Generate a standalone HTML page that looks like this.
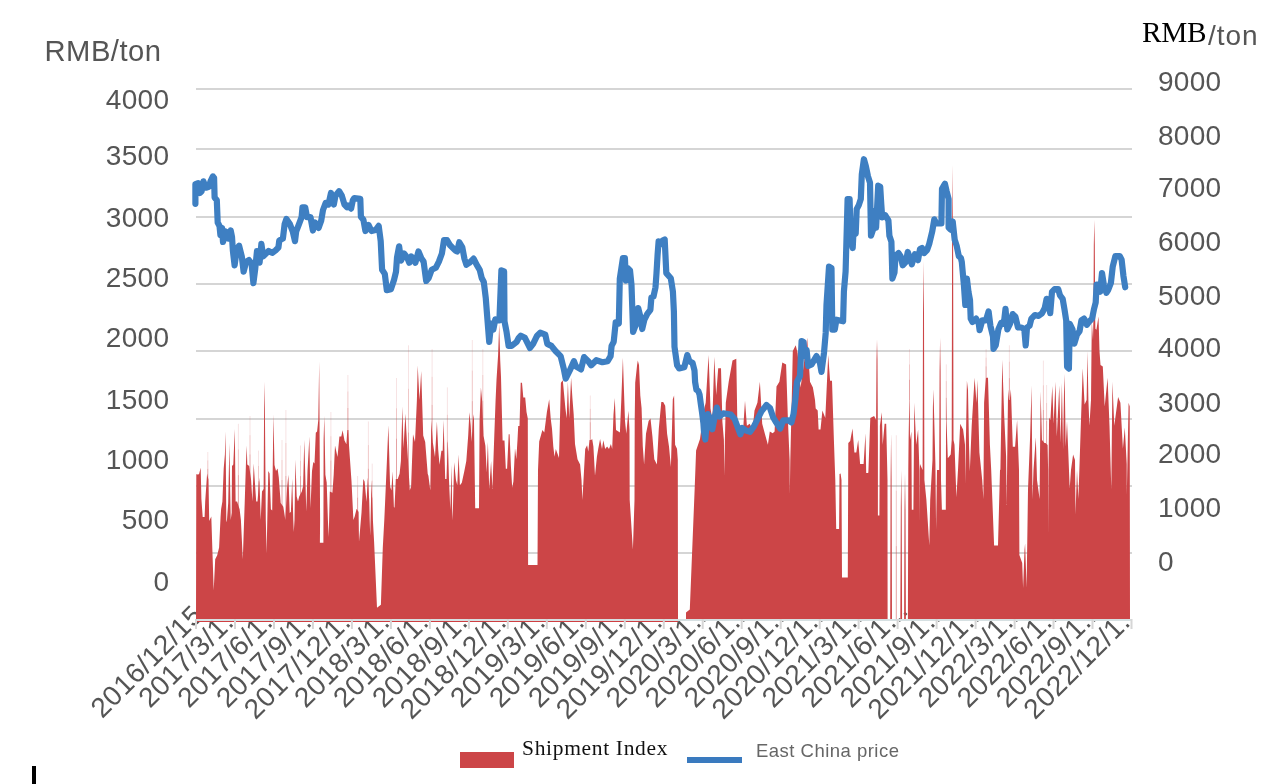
<!DOCTYPE html>
<html><head><meta charset="utf-8"><style>
html,body{margin:0;padding:0;background:#fff;}
body{width:1276px;height:784px;overflow:hidden;position:relative;}
svg{position:absolute;left:0;top:0;will-change:transform;}
</style></head><body>
<svg width="1276" height="784" viewBox="0 0 1276 784">
<defs><clipPath id="lc"><rect x="0" y="0" width="1132" height="784"/></clipPath></defs><g clip-path="url(#lc)">
<text x="204.5" y="617.0" text-anchor="end" transform="rotate(-45 204.5 617.0)" letter-spacing="0.45" font-size="28" fill="#555" font-family='"Liberation Sans",sans-serif'>2016/12/15</text>
<text x="247.0" y="612.0" text-anchor="end" transform="rotate(-45 247.0 612.0)" letter-spacing="0.45" font-size="28" fill="#555" font-family='"Liberation Sans",sans-serif'>2017/3/1...</text>
<text x="286.0" y="612.0" text-anchor="end" transform="rotate(-45 286.0 612.0)" letter-spacing="0.45" font-size="28" fill="#555" font-family='"Liberation Sans",sans-serif'>2017/6/1...</text>
<text x="324.9" y="612.0" text-anchor="end" transform="rotate(-45 324.9 612.0)" letter-spacing="0.45" font-size="28" fill="#555" font-family='"Liberation Sans",sans-serif'>2017/9/1...</text>
<text x="363.9" y="612.0" text-anchor="end" transform="rotate(-45 363.9 612.0)" letter-spacing="0.45" font-size="28" fill="#555" font-family='"Liberation Sans",sans-serif'>2017/12/1...</text>
<text x="402.9" y="612.0" text-anchor="end" transform="rotate(-45 402.9 612.0)" letter-spacing="0.45" font-size="28" fill="#555" font-family='"Liberation Sans",sans-serif'>2018/3/1...</text>
<text x="441.9" y="612.0" text-anchor="end" transform="rotate(-45 441.9 612.0)" letter-spacing="0.45" font-size="28" fill="#555" font-family='"Liberation Sans",sans-serif'>2018/6/1...</text>
<text x="480.9" y="612.0" text-anchor="end" transform="rotate(-45 480.9 612.0)" letter-spacing="0.45" font-size="28" fill="#555" font-family='"Liberation Sans",sans-serif'>2018/9/1...</text>
<text x="519.8" y="612.0" text-anchor="end" transform="rotate(-45 519.8 612.0)" letter-spacing="0.45" font-size="28" fill="#555" font-family='"Liberation Sans",sans-serif'>2018/12/1...</text>
<text x="558.8" y="612.0" text-anchor="end" transform="rotate(-45 558.8 612.0)" letter-spacing="0.45" font-size="28" fill="#555" font-family='"Liberation Sans",sans-serif'>2019/3/1...</text>
<text x="597.8" y="612.0" text-anchor="end" transform="rotate(-45 597.8 612.0)" letter-spacing="0.45" font-size="28" fill="#555" font-family='"Liberation Sans",sans-serif'>2019/6/1...</text>
<text x="636.8" y="612.0" text-anchor="end" transform="rotate(-45 636.8 612.0)" letter-spacing="0.45" font-size="28" fill="#555" font-family='"Liberation Sans",sans-serif'>2019/9/1...</text>
<text x="675.8" y="612.0" text-anchor="end" transform="rotate(-45 675.8 612.0)" letter-spacing="0.45" font-size="28" fill="#555" font-family='"Liberation Sans",sans-serif'>2019/12/1...</text>
<text x="714.7" y="612.0" text-anchor="end" transform="rotate(-45 714.7 612.0)" letter-spacing="0.45" font-size="28" fill="#555" font-family='"Liberation Sans",sans-serif'>2020/3/1...</text>
<text x="753.7" y="612.0" text-anchor="end" transform="rotate(-45 753.7 612.0)" letter-spacing="0.45" font-size="28" fill="#555" font-family='"Liberation Sans",sans-serif'>2020/6/1...</text>
<text x="792.7" y="612.0" text-anchor="end" transform="rotate(-45 792.7 612.0)" letter-spacing="0.45" font-size="28" fill="#555" font-family='"Liberation Sans",sans-serif'>2020/9/1...</text>
<text x="831.7" y="612.0" text-anchor="end" transform="rotate(-45 831.7 612.0)" letter-spacing="0.45" font-size="28" fill="#555" font-family='"Liberation Sans",sans-serif'>2020/12/1...</text>
<text x="870.6" y="612.0" text-anchor="end" transform="rotate(-45 870.6 612.0)" letter-spacing="0.45" font-size="28" fill="#555" font-family='"Liberation Sans",sans-serif'>2021/3/1...</text>
<text x="909.6" y="612.0" text-anchor="end" transform="rotate(-45 909.6 612.0)" letter-spacing="0.45" font-size="28" fill="#555" font-family='"Liberation Sans",sans-serif'>2021/6/1...</text>
<text x="948.6" y="612.0" text-anchor="end" transform="rotate(-45 948.6 612.0)" letter-spacing="0.45" font-size="28" fill="#555" font-family='"Liberation Sans",sans-serif'>2021/9/1...</text>
<text x="987.6" y="612.0" text-anchor="end" transform="rotate(-45 987.6 612.0)" letter-spacing="0.45" font-size="28" fill="#555" font-family='"Liberation Sans",sans-serif'>2021/12/1...</text>
<text x="1026.6" y="612.0" text-anchor="end" transform="rotate(-45 1026.6 612.0)" letter-spacing="0.45" font-size="28" fill="#555" font-family='"Liberation Sans",sans-serif'>2022/3/1...</text>
<text x="1065.5" y="612.0" text-anchor="end" transform="rotate(-45 1065.5 612.0)" letter-spacing="0.45" font-size="28" fill="#555" font-family='"Liberation Sans",sans-serif'>2022/6/1...</text>
<text x="1104.5" y="612.0" text-anchor="end" transform="rotate(-45 1104.5 612.0)" letter-spacing="0.45" font-size="28" fill="#555" font-family='"Liberation Sans",sans-serif'>2022/9/1...</text>
<text x="1143.5" y="612.0" text-anchor="end" transform="rotate(-45 1143.5 612.0)" letter-spacing="0.45" font-size="28" fill="#555" font-family='"Liberation Sans",sans-serif'>2022/12/1...</text>
</g>
<rect x="196" y="88" width="936" height="2" fill="#d5d5d5"/>
<rect x="196" y="148" width="936" height="2" fill="#d5d5d5"/>
<rect x="196" y="216" width="936" height="2" fill="#d5d5d5"/>
<rect x="196" y="283" width="936" height="2" fill="#d5d5d5"/>
<rect x="196" y="350" width="936" height="2" fill="#d5d5d5"/>
<rect x="196" y="418" width="936" height="2" fill="#d5d5d5"/>
<rect x="196" y="485" width="936" height="2" fill="#d5d5d5"/>
<rect x="196" y="552" width="936" height="2" fill="#d5d5d5"/>
<polygon points="196.0,620.0 196.3,474.0 197.0,474.5 199.0,474.2 200.7,467.8 201.4,499.0 202.7,517.0 204.6,517.0 205.2,501.6 207.1,473.6 208.5,480.0 209.2,521.0 211.3,516.5 213.7,590.2 215.2,559.2 217.2,555.3 219.1,547.6 220.6,516.5 221.1,509.3 222.4,501.6 223.7,468.5 224.9,454.4 225.6,431.5 226.3,520.0 226.8,522.4 228.2,502.9 229.4,443.0 230.7,520.0 231.7,512.7 232.0,465.9 233.3,464.6 234.8,429.0 235.6,501.6 237.1,501.6 239.6,509.3 240.9,520.0 242.8,559.2 244.7,502.9 246.0,462.0 246.7,445.5 247.3,464.6 249.2,465.9 251.1,480.0 252.4,501.6 253.7,463.4 255.0,483.8 256.2,501.6 257.5,501.6 259.4,477.4 260.7,520.0 262.0,491.4 263.6,488.9 264.1,408.5 264.5,381.7 264.9,408.5 265.8,520.0 266.6,553.4 268.3,471.0 269.6,473.6 270.9,509.3 272.2,510.6 273.4,414.2 274.5,465.0 276.0,471.0 277.6,468.5 278.8,477.4 280.7,502.9 283.3,506.7 284.6,515.0 285.3,520.0 287.1,487.6 288.4,474.8 289.7,513.1 290.9,511.8 292.2,478.7 293.3,520.0 293.8,532.0 294.5,520.0 295.4,459.5 296.7,496.5 298.0,501.6 299.2,496.5 301.8,491.4 303.1,486.3 304.3,439.8 306.3,511.8 307.5,471.0 309.4,436.6 310.5,508.0 312.0,471.0 313.3,462.0 314.5,463.4 315.8,432.8 317.1,431.5 318.3,420.0 319.2,361.6 320.1,520.0 319.9,542.7 323.4,542.7 323.6,440.0 324.3,416.1 325.4,474.8 326.7,482.5 327.9,520.0 328.7,536.9 329.8,491.4 332.4,492.7 333.7,474.8 335.0,445.5 337.5,457.0 339.4,436.6 341.3,436.6 342.6,430.2 344.5,440.4 346.4,444.2 347.3,430.0 348.5,430.0 349.0,445.5 351.5,481.2 353.4,520.0 354.7,516.5 356.6,508.8 358.6,512.0 359.0,541.8 361.5,512.7 363.3,478.9 364.6,481.4 366.5,501.8 367.8,477.6 369.2,500.0 369.7,520.0 370.2,536.0 371.5,480.0 372.9,520.0 374.1,541.8 377.0,607.7 380.9,604.8 382.8,547.6 384.3,520.0 385.0,504.4 386.9,461.0 388.4,425.3 390.1,486.5 391.4,490.4 392.6,471.2 393.9,506.9 394.5,507.8 395.8,478.9 397.7,478.9 399.6,473.8 400.9,461.0 402.4,406.6 403.5,448.3 405.4,413.8 407.3,448.3 409.8,490.4 411.1,486.5 413.0,434.2 415.0,441.9 416.9,400.0 417.7,365.4 419.5,400.0 421.2,371.1 423.2,435.5 425.2,441.9 427.7,473.8 428.4,475.8 430.3,490.4 431.3,420.0 432.8,441.9 435.0,457.2 436.9,421.5 438.2,449.5 439.5,464.8 441.4,450.8 442.7,450.8 443.6,420.0 445.2,478.9 446.5,478.9 447.8,439.3 449.0,480.2 450.3,510.0 450.9,489.0 451.6,464.8 452.3,520.4 452.9,510.0 454.1,462.3 456.0,480.2 457.3,485.3 458.6,454.6 459.9,485.3 461.8,482.7 464.3,471.2 466.3,461.0 468.2,435.5 469.4,412.3 470.7,425.3 471.6,441.9 472.9,420.0 473.9,414.2 475.2,508.2 479.0,508.2 479.6,420.0 480.9,387.4 482.1,400.0 483.5,435.5 485.4,445.7 486.7,472.5 487.9,441.9 489.2,489.1 491.1,461.0 492.4,489.1 494.3,435.5 495.6,400.0 496.5,380.0 498.1,354.9 499.2,324.0 500.2,360.0 501.0,376.9 502.6,440.6 504.5,440.6 505.8,468.7 507.1,468.7 508.7,434.2 509.6,434.2 510.9,466.1 512.2,487.8 513.4,481.4 515.0,448.3 516.3,459.3 517.5,440.0 518.2,426.1 519.5,426.0 520.7,382.8 522.0,382.8 523.3,397.4 525.2,397.4 526.5,412.1 527.8,418.5 528.1,565.0 537.5,565.0 538.0,470.0 539.2,441.4 542.4,430.0 544.3,432.5 546.9,412.1 549.2,399.3 550.7,418.5 552.0,428.7 553.3,446.5 554.5,456.7 555.8,449.1 557.7,454.2 559.0,458.0 560.9,382.8 562.8,380.2 565.4,408.3 566.7,418.5 567.9,381.5 569.2,418.5 571.1,377.7 572.4,398.0 573.7,414.6 575.0,444.0 577.5,459.3 580.1,464.4 581.5,480.0 582.4,500.0 583.5,480.0 585.2,449.1 587.1,445.3 588.3,451.6 589.5,440.0 591.1,440.0 592.2,438.9 593.4,446.5 595.0,475.8 596.9,456.7 598.2,449.1 600.1,438.9 602.0,449.1 603.3,440.2 605.2,449.1 607.1,446.5 609.0,449.1 610.9,444.0 612.2,449.1 613.5,414.6 614.8,398.0 616.0,430.0 618.0,431.2 619.9,432.5 621.3,400.0 622.9,357.8 623.7,382.8 625.0,421.0 626.3,433.8 628.4,410.8 629.5,430.0 629.7,500.0 632.9,549.5 634.5,500.0 634.7,420.0 635.2,382.8 637.1,365.0 637.8,360.6 639.0,365.0 640.3,395.5 641.6,408.3 642.8,446.5 644.1,464.4 646.0,433.8 648.6,421.0 650.5,418.5 652.4,436.3 654.3,459.3 656.9,464.4 658.8,428.7 661.3,401.9 663.2,401.9 665.2,405.7 667.1,433.8 669.0,446.5 670.9,466.9 672.8,399.3 674.1,395.5 675.1,444.8 677.0,448.7 677.8,460.0 678.0,620.0 686.0,620.0 686.0,612.5 689.8,609.6 694.8,485.5 696.1,450.6 700.0,439.0 703.8,410.4 705.7,402.7 708.6,354.9 710.5,408.5 712.4,420.0 714.3,356.8 716.2,395.1 718.2,368.3 721.0,368.3 722.4,421.9 723.9,440.0 724.4,476.0 724.9,440.0 725.8,402.7 728.7,381.7 732.5,360.6 736.3,358.7 737.3,420.0 740.2,433.3 743.0,431.4 745.0,400.8 746.9,425.7 749.7,423.8 752.6,429.5 754.5,410.4 757.4,402.7 759.9,381.7 762.2,423.8 765.0,434.3 767.9,444.8 769.8,431.4 772.7,433.3 774.6,431.4 776.5,386.5 779.4,381.7 782.3,362.5 786.1,364.4 788.0,421.9 789.6,460.0 789.8,494.0 790.3,460.0 791.8,397.0 792.8,351.1 795.7,345.3 797.6,353.0 800.5,387.4 803.3,368.3 807.2,337.7 810.0,381.7 812.9,387.4 815.0,400.0 815.7,408.5 817.7,410.4 818.6,429.5 820.5,429.5 822.4,410.4 825.3,418.0 828.2,354.9 830.1,380.7 832.0,380.7 833.9,440.0 835.3,480.0 836.2,529.0 839.1,529.0 839.5,474.0 840.6,473.5 841.5,480.0 842.0,577.6 847.8,577.6 848.3,442.9 850.2,441.0 852.5,428.6 854.4,452.5 856.3,452.5 858.2,440.0 860.1,464.0 863.6,464.0 865.5,433.3 866.2,473.0 868.2,473.0 868.4,471.6 870.3,418.0 874.1,416.1 876.1,420.0 876.5,359.7 877.0,339.6 877.5,359.7 877.9,440.0 877.9,515.6 879.4,515.6 879.9,425.7 881.8,412.3 882.7,444.8 884.6,423.8 886.2,423.8 887.5,480.0 887.6,620.0 890.2,620.0 890.6,480.0 891.1,433.3 891.6,480.0 892.0,620.0 895.9,620.0 896.7,620.0 900.3,620.0 900.8,507.5 901.2,470.0 901.7,507.5 902.1,620.0 904.1,620.0 904.5,510.1 905.0,473.5 905.5,510.1 905.9,620.0 907.9,620.0 908.3,470.0 908.6,439.0 909.3,400.0 909.7,400.0 910.0,440.0 911.4,431.4 911.8,509.8 913.4,509.8 914.3,402.7 916.2,444.8 918.1,429.5 919.4,470.0 919.6,522.4 919.8,470.0 920.0,464.0 922.6,470.0 923.0,313.2 923.5,261.0 924.0,313.2 924.4,480.0 926.4,500.0 929.3,545.6 930.2,500.0 932.5,460.1 932.9,407.0 933.4,389.3 933.9,407.0 935.4,464.0 936.1,530.1 937.0,470.0 939.2,470.0 939.6,370.8 940.1,337.7 940.6,370.8 941.0,480.0 941.9,509.8 945.8,509.8 946.1,400.0 946.5,420.0 947.8,458.2 950.7,454.4 951.7,440.0 952.1,233.8 952.6,165.0 953.1,233.8 953.5,440.0 954.5,444.8 956.4,497.2 958.0,470.0 960.2,423.8 963.1,429.5 965.0,444.8 965.2,483.6 966.9,380.7 968.0,390.0 969.0,445.0 969.8,471.6 971.7,425.7 974.6,377.8 976.5,402.7 977.4,379.8 979.4,452.5 982.2,480.0 983.4,499.0 984.1,402.7 985.8,377.8 986.4,377.8 988.0,377.8 989.9,444.8 991.2,470.0 994.1,545.6 998.0,545.6 1000.0,470.0 1000.4,469.7 1002.3,359.7 1004.2,416.1 1006.1,456.3 1006.7,504.9 1007.2,460.0 1008.1,389.3 1009.0,400.0 1009.8,400.0 1010.9,389.3 1012.8,446.7 1015.1,446.7 1017.1,420.0 1019.0,470.0 1019.4,555.0 1022.2,563.0 1023.1,588.0 1024.5,550.0 1025.1,543.6 1026.6,588.0 1028.0,489.4 1030.1,437.2 1031.6,385.5 1032.5,499.0 1033.5,470.0 1035.8,437.2 1037.0,480.0 1039.6,499.0 1040.6,391.2 1042.0,440.0 1044.5,443.0 1045.5,443.0 1047.6,445.0 1048.1,470.0 1048.3,535.9 1048.5,470.0 1049.1,417.4 1050.4,420.0 1052.3,386.1 1053.6,423.8 1055.5,381.7 1056.8,436.5 1059.3,385.5 1060.6,443.0 1061.9,383.0 1063.1,449.3 1064.0,392.2 1064.4,374.0 1064.9,392.2 1065.7,446.7 1067.0,421.2 1068.3,452.5 1069.7,488.4 1071.0,470.0 1073.1,454.4 1075.0,460.1 1075.5,514.6 1077.0,470.0 1078.4,499.0 1079.8,456.3 1082.7,368.3 1084.6,404.6 1086.6,400.0 1087.5,351.0 1088.4,400.0 1089.4,425.7 1091.0,400.0 1091.8,321.0 1093.0,340.0 1093.4,320.0 1093.8,245.0 1094.3,220.0 1094.8,245.0 1095.2,320.0 1095.4,328.8 1096.4,329.8 1098.5,316.5 1099.5,351.2 1100.5,365.0 1102.8,366.4 1104.7,406.6 1107.6,377.8 1109.5,425.7 1111.3,489.4 1112.4,381.7 1114.3,425.7 1118.1,397.0 1120.4,402.7 1122.9,448.7 1124.8,427.6 1126.7,464.0 1126.8,495.2 1128.6,402.7 1129.7,406.6 1130.0,620.0 1131.0,620.0" fill="#cc4547"/>
<line x1="207.8" y1="452.0" x2="207.8" y2="460.4" stroke="#cc4547" stroke-width="1" stroke-opacity="0.15"/>
<line x1="207.8" y1="460.4" x2="207.8" y2="468.8" stroke="#cc4547" stroke-width="1" stroke-opacity="0.3"/>
<line x1="207.8" y1="468.8" x2="207.8" y2="480" stroke="#cc4547" stroke-width="1" stroke-opacity="0.5"/>
<line x1="238.4" y1="423.8" x2="238.4" y2="449.4" stroke="#cc4547" stroke-width="1" stroke-opacity="0.15"/>
<line x1="238.4" y1="449.4" x2="238.4" y2="475.1" stroke="#cc4547" stroke-width="1" stroke-opacity="0.3"/>
<line x1="238.4" y1="475.1" x2="238.4" y2="509.3" stroke="#cc4547" stroke-width="1" stroke-opacity="0.5"/>
<line x1="250" y1="416.0" x2="250" y2="435.2" stroke="#cc4547" stroke-width="1" stroke-opacity="0.15"/>
<line x1="250" y1="435.2" x2="250" y2="454.4" stroke="#cc4547" stroke-width="1" stroke-opacity="0.3"/>
<line x1="250" y1="454.4" x2="250" y2="480" stroke="#cc4547" stroke-width="1" stroke-opacity="0.5"/>
<line x1="258.5" y1="450.6" x2="258.5" y2="465.9" stroke="#cc4547" stroke-width="1" stroke-opacity="0.15"/>
<line x1="258.5" y1="465.9" x2="258.5" y2="481.2" stroke="#cc4547" stroke-width="1" stroke-opacity="0.3"/>
<line x1="258.5" y1="481.2" x2="258.5" y2="501.6" stroke="#cc4547" stroke-width="1" stroke-opacity="0.5"/>
<line x1="282" y1="440.0" x2="282" y2="460.0" stroke="#cc4547" stroke-width="1" stroke-opacity="0.15"/>
<line x1="282" y1="460.0" x2="282" y2="480.0" stroke="#cc4547" stroke-width="1" stroke-opacity="0.3"/>
<line x1="282" y1="480.0" x2="282" y2="506.7" stroke="#cc4547" stroke-width="1" stroke-opacity="0.5"/>
<line x1="285.9" y1="410.0" x2="285.9" y2="443.0" stroke="#cc4547" stroke-width="1" stroke-opacity="0.15"/>
<line x1="285.9" y1="443.0" x2="285.9" y2="476.0" stroke="#cc4547" stroke-width="1" stroke-opacity="0.3"/>
<line x1="285.9" y1="476.0" x2="285.9" y2="520" stroke="#cc4547" stroke-width="1" stroke-opacity="0.5"/>
<line x1="300.5" y1="445.5" x2="300.5" y2="460.8" stroke="#cc4547" stroke-width="1" stroke-opacity="0.15"/>
<line x1="300.5" y1="460.8" x2="300.5" y2="476.1" stroke="#cc4547" stroke-width="1" stroke-opacity="0.3"/>
<line x1="300.5" y1="476.1" x2="300.5" y2="496.5" stroke="#cc4547" stroke-width="1" stroke-opacity="0.5"/>
<line x1="330.9" y1="412.0" x2="330.9" y2="436.2" stroke="#cc4547" stroke-width="1" stroke-opacity="0.15"/>
<line x1="330.9" y1="436.2" x2="330.9" y2="460.4" stroke="#cc4547" stroke-width="1" stroke-opacity="0.3"/>
<line x1="330.9" y1="460.4" x2="330.9" y2="492.7" stroke="#cc4547" stroke-width="1" stroke-opacity="0.5"/>
<line x1="347.9" y1="375.0" x2="347.9" y2="391.5" stroke="#cc4547" stroke-width="1" stroke-opacity="0.15"/>
<line x1="347.9" y1="391.5" x2="347.9" y2="408.0" stroke="#cc4547" stroke-width="1" stroke-opacity="0.3"/>
<line x1="347.9" y1="408.0" x2="347.9" y2="430" stroke="#cc4547" stroke-width="1" stroke-opacity="0.5"/>
<line x1="357.6" y1="476.0" x2="357.6" y2="486.8" stroke="#cc4547" stroke-width="1" stroke-opacity="0.15"/>
<line x1="357.6" y1="486.8" x2="357.6" y2="497.6" stroke="#cc4547" stroke-width="1" stroke-opacity="0.3"/>
<line x1="357.6" y1="497.6" x2="357.6" y2="512" stroke="#cc4547" stroke-width="1" stroke-opacity="0.5"/>
<line x1="368.4" y1="421.5" x2="368.4" y2="445.1" stroke="#cc4547" stroke-width="1" stroke-opacity="0.15"/>
<line x1="368.4" y1="445.1" x2="368.4" y2="468.6" stroke="#cc4547" stroke-width="1" stroke-opacity="0.3"/>
<line x1="368.4" y1="468.6" x2="368.4" y2="500" stroke="#cc4547" stroke-width="1" stroke-opacity="0.5"/>
<line x1="372.2" y1="463.6" x2="372.2" y2="480.5" stroke="#cc4547" stroke-width="1" stroke-opacity="0.15"/>
<line x1="372.2" y1="480.5" x2="372.2" y2="497.4" stroke="#cc4547" stroke-width="1" stroke-opacity="0.3"/>
<line x1="372.2" y1="497.4" x2="372.2" y2="520" stroke="#cc4547" stroke-width="1" stroke-opacity="0.5"/>
<line x1="396.5" y1="378.0" x2="396.5" y2="408.3" stroke="#cc4547" stroke-width="1" stroke-opacity="0.15"/>
<line x1="396.5" y1="408.3" x2="396.5" y2="438.5" stroke="#cc4547" stroke-width="1" stroke-opacity="0.3"/>
<line x1="396.5" y1="438.5" x2="396.5" y2="478.9" stroke="#cc4547" stroke-width="1" stroke-opacity="0.5"/>
<line x1="408.5" y1="345.3" x2="408.5" y2="388.8" stroke="#cc4547" stroke-width="1" stroke-opacity="0.15"/>
<line x1="408.5" y1="388.8" x2="408.5" y2="432.4" stroke="#cc4547" stroke-width="1" stroke-opacity="0.3"/>
<line x1="408.5" y1="432.4" x2="408.5" y2="490.4" stroke="#cc4547" stroke-width="1" stroke-opacity="0.5"/>
<line x1="432.1" y1="349.1" x2="432.1" y2="376.9" stroke="#cc4547" stroke-width="1" stroke-opacity="0.15"/>
<line x1="432.1" y1="376.9" x2="432.1" y2="404.8" stroke="#cc4547" stroke-width="1" stroke-opacity="0.3"/>
<line x1="432.1" y1="404.8" x2="432.1" y2="441.9" stroke="#cc4547" stroke-width="1" stroke-opacity="0.5"/>
<line x1="447.4" y1="387.4" x2="447.4" y2="414.8" stroke="#cc4547" stroke-width="1" stroke-opacity="0.15"/>
<line x1="447.4" y1="414.8" x2="447.4" y2="442.3" stroke="#cc4547" stroke-width="1" stroke-opacity="0.3"/>
<line x1="447.4" y1="442.3" x2="447.4" y2="478.9" stroke="#cc4547" stroke-width="1" stroke-opacity="0.5"/>
<line x1="472.3" y1="340.0" x2="472.3" y2="370.6" stroke="#cc4547" stroke-width="1" stroke-opacity="0.15"/>
<line x1="472.3" y1="370.6" x2="472.3" y2="401.1" stroke="#cc4547" stroke-width="1" stroke-opacity="0.3"/>
<line x1="472.3" y1="401.1" x2="472.3" y2="441.9" stroke="#cc4547" stroke-width="1" stroke-opacity="0.5"/>
<line x1="482.8" y1="349.1" x2="482.8" y2="375.0" stroke="#cc4547" stroke-width="1" stroke-opacity="0.15"/>
<line x1="482.8" y1="375.0" x2="482.8" y2="400.9" stroke="#cc4547" stroke-width="1" stroke-opacity="0.3"/>
<line x1="482.8" y1="400.9" x2="482.8" y2="435.5" stroke="#cc4547" stroke-width="1" stroke-opacity="0.5"/>
<line x1="590.3" y1="395.5" x2="590.3" y2="408.9" stroke="#cc4547" stroke-width="1" stroke-opacity="0.15"/>
<line x1="590.3" y1="408.9" x2="590.3" y2="422.2" stroke="#cc4547" stroke-width="1" stroke-opacity="0.3"/>
<line x1="590.3" y1="422.2" x2="590.3" y2="440" stroke="#cc4547" stroke-width="1" stroke-opacity="0.5"/>
<line x1="896.3" y1="435.3" x2="896.3" y2="490.7" stroke="#cc4547" stroke-width="1" stroke-opacity="0.15"/>
<line x1="896.3" y1="490.7" x2="896.3" y2="546.1" stroke="#cc4547" stroke-width="1" stroke-opacity="0.3"/>
<line x1="896.3" y1="546.1" x2="896.3" y2="620" stroke="#cc4547" stroke-width="1" stroke-opacity="0.5"/>
<line x1="909.5" y1="349.1" x2="909.5" y2="364.4" stroke="#cc4547" stroke-width="1" stroke-opacity="0.15"/>
<line x1="909.5" y1="364.4" x2="909.5" y2="379.6" stroke="#cc4547" stroke-width="1" stroke-opacity="0.3"/>
<line x1="909.5" y1="379.6" x2="909.5" y2="400" stroke="#cc4547" stroke-width="1" stroke-opacity="0.5"/>
<line x1="946.3" y1="364.4" x2="946.3" y2="381.1" stroke="#cc4547" stroke-width="1" stroke-opacity="0.15"/>
<line x1="946.3" y1="381.1" x2="946.3" y2="397.8" stroke="#cc4547" stroke-width="1" stroke-opacity="0.3"/>
<line x1="946.3" y1="397.8" x2="946.3" y2="420" stroke="#cc4547" stroke-width="1" stroke-opacity="0.5"/>
<line x1="986.1" y1="349.1" x2="986.1" y2="357.7" stroke="#cc4547" stroke-width="1" stroke-opacity="0.15"/>
<line x1="986.1" y1="357.7" x2="986.1" y2="366.3" stroke="#cc4547" stroke-width="1" stroke-opacity="0.3"/>
<line x1="986.1" y1="366.3" x2="986.1" y2="377.8" stroke="#cc4547" stroke-width="1" stroke-opacity="0.5"/>
<line x1="1009.4" y1="345.3" x2="1009.4" y2="361.7" stroke="#cc4547" stroke-width="1" stroke-opacity="0.15"/>
<line x1="1009.4" y1="361.7" x2="1009.4" y2="378.1" stroke="#cc4547" stroke-width="1" stroke-opacity="0.3"/>
<line x1="1009.4" y1="378.1" x2="1009.4" y2="400" stroke="#cc4547" stroke-width="1" stroke-opacity="0.5"/>
<line x1="1043.4" y1="360.6" x2="1043.4" y2="385.3" stroke="#cc4547" stroke-width="1" stroke-opacity="0.15"/>
<line x1="1043.4" y1="385.3" x2="1043.4" y2="410.0" stroke="#cc4547" stroke-width="1" stroke-opacity="0.3"/>
<line x1="1043.4" y1="410.0" x2="1043.4" y2="443" stroke="#cc4547" stroke-width="1" stroke-opacity="0.5"/>
<line x1="1046.6" y1="385.0" x2="1046.6" y2="403.0" stroke="#cc4547" stroke-width="1" stroke-opacity="0.15"/>
<line x1="1046.6" y1="403.0" x2="1046.6" y2="421.0" stroke="#cc4547" stroke-width="1" stroke-opacity="0.3"/>
<line x1="1046.6" y1="421.0" x2="1046.6" y2="445" stroke="#cc4547" stroke-width="1" stroke-opacity="0.5"/>
<rect x="196" y="619" width="936" height="2" fill="#d6e0e2"/>
<rect x="196" y="621" width="482" height="1" fill="#cf3f42"/>
<rect x="195.0" y="619" width="2" height="10" fill="#d6d6d6"/>
<rect x="234.0" y="619" width="2" height="10" fill="#d6d6d6"/>
<rect x="273.0" y="619" width="2" height="10" fill="#d6d6d6"/>
<rect x="311.9" y="619" width="2" height="10" fill="#d6d6d6"/>
<rect x="350.9" y="619" width="2" height="10" fill="#d6d6d6"/>
<rect x="389.9" y="619" width="2" height="10" fill="#d6d6d6"/>
<rect x="428.9" y="619" width="2" height="10" fill="#d6d6d6"/>
<rect x="467.9" y="619" width="2" height="10" fill="#d6d6d6"/>
<rect x="506.8" y="619" width="2" height="10" fill="#d6d6d6"/>
<rect x="545.8" y="619" width="2" height="10" fill="#d6d6d6"/>
<rect x="584.8" y="619" width="2" height="10" fill="#d6d6d6"/>
<rect x="623.8" y="619" width="2" height="10" fill="#d6d6d6"/>
<rect x="662.8" y="619" width="2" height="10" fill="#d6d6d6"/>
<rect x="701.7" y="619" width="2" height="10" fill="#d6d6d6"/>
<rect x="740.7" y="619" width="2" height="10" fill="#d6d6d6"/>
<rect x="779.7" y="619" width="2" height="10" fill="#d6d6d6"/>
<rect x="818.7" y="619" width="2" height="10" fill="#d6d6d6"/>
<rect x="857.6" y="619" width="2" height="10" fill="#d6d6d6"/>
<rect x="896.6" y="619" width="2" height="10" fill="#d6d6d6"/>
<rect x="935.6" y="619" width="2" height="10" fill="#d6d6d6"/>
<rect x="974.6" y="619" width="2" height="10" fill="#d6d6d6"/>
<rect x="1013.6" y="619" width="2" height="10" fill="#d6d6d6"/>
<rect x="1052.5" y="619" width="2" height="10" fill="#d6d6d6"/>
<rect x="1091.5" y="619" width="2" height="10" fill="#d6d6d6"/>
<rect x="1130.5" y="619" width="2" height="10" fill="#d6d6d6"/>
<polyline points="195.4,203.8 195.4,184.1 198.0,183.2 199.8,193.0 201.6,191.2 203.4,181.4 206.0,187.7 208.8,186.8 210.5,181.4 212.9,176.4 214.1,177.9 214.6,197.5 216.8,200.2 217.7,222.5 219.5,226.0 220.4,235.0 222.1,227.9 223.0,242.0 225.7,231.4 228.4,238.6 230.7,230.5 232.0,236.8 232.9,251.0 234.6,265.4 236.8,249.3 239.1,245.7 241.8,256.4 243.6,271.6 246.2,261.8 248.9,260.0 251.6,263.6 253.4,283.2 255.2,269.0 257.0,251.0 259.6,262.7 261.4,243.9 263.2,256.4 265.0,254.6 268.6,251.0 272.1,252.9 275.7,250.2 278.4,247.5 279.3,240.4 282.9,238.6 284.6,224.3 286.4,218.9 290.0,224.3 292.7,231.4 295.0,241.2 296.2,231.4 298.9,224.3 301.6,217.1 302.5,207.3 305.2,207.3 307.0,217.1 310.5,217.1 312.9,230.5 315.0,222.5 318.6,227.9 321.2,220.7 323.0,210.0 325.7,202.9 328.4,204.6 331.0,193.0 333.8,204.6 335.5,195.7 339.1,191.2 341.8,195.7 344.5,204.6 347.1,207.3 348.1,205.5 351.1,208.6 352.8,200.4 354.2,198.0 360.3,198.8 360.9,216.7 363.4,219.8 365.4,231.0 368.5,224.9 371.5,231.0 375.6,230.0 378.7,225.9 380.7,241.2 382.1,269.8 384.8,273.9 386.8,290.2 390.9,289.2 394.0,280.0 396.0,271.8 397.0,257.6 399.1,246.3 401.1,260.6 404.2,253.5 407.2,257.6 409.3,262.7 411.3,256.5 415.4,262.7 418.5,251.4 421.5,258.6 423.6,261.6 426.2,281.0 428.7,278.0 431.7,269.8 435.8,267.8 438.9,261.6 441.9,253.5 444.0,240.2 447.0,240.2 450.1,245.3 455.2,250.4 457.2,251.4 459.3,242.2 462.3,247.3 464.4,258.6 466.4,264.7 469.5,262.7 473.6,258.6 476.6,264.7 479.7,269.8 481.7,278.0 483.8,282.0 485.8,298.4 487.1,315.3 489.2,341.8 491.2,323.5 493.3,329.6 495.3,319.4 499.4,320.4 501.4,270.4 504.1,271.4 504.5,321.4 506.5,331.6 508.6,345.9 511.6,345.9 516.7,341.8 518.8,337.8 520.8,335.7 524.9,337.8 530.0,348.0 533.1,343.9 537.1,335.7 540.2,332.7 545.3,334.7 547.3,343.9 551.4,345.9 555.5,351.0 560.6,356.1 563.7,368.4 565.7,378.6 569.8,370.4 573.9,361.2 575.9,366.3 581.0,369.4 584.1,357.1 588.2,361.2 591.2,365.3 596.3,360.2 602.4,362.2 607.6,361.2 610.6,356.1 611.6,345.9 613.7,341.8 615.7,322.4 618.8,323.5 619.8,278.6 622.9,258.2 624.9,258.2 625.9,280.6 628.0,268.4 630.0,270.4 631.5,285.0 633.1,332.0 636.1,324.0 638.2,308.0 640.2,316.0 642.2,329.0 644.3,320.0 647.3,313.9 650.4,309.8 651.4,297.6 653.5,296.5 655.5,287.3 656.5,273.1 657.6,254.7 658.6,241.4 660.6,244.5 662.7,240.4 664.7,239.4 666.3,273.1 670.8,278.2 672.9,291.4 673.9,311.8 674.5,346.9 677.1,365.3 679.2,368.4 684.3,367.3 687.3,355.1 689.4,361.2 692.6,363.0 694.5,370.6 695.1,382.0 696.4,389.7 698.3,391.0 699.6,394.8 700.8,403.8 702.1,412.7 703.4,423.0 704.0,431.8 705.3,439.5 706.5,425.0 707.9,414.0 709.1,416.5 711.0,424.0 712.3,429.3 714.5,418.0 716.8,407.6 719.3,416.5 723.2,413.3 730.8,414.6 734.6,419.0 738.5,429.3 740.4,434.4 742.3,428.0 746.1,430.6 750.0,431.8 753.8,426.7 757.6,419.0 761.4,411.4 766.5,405.0 770.0,408.0 773.1,417.3 776.1,422.4 780.2,428.6 783.3,420.4 788.4,420.4 791.4,422.4 793.5,414.3 795.5,398.0 797.0,382.0 800.0,376.0 801.6,341.0 803.5,342.0 804.5,356.0 806.6,350.0 808.2,366.0 811.6,364.4 816.5,356.1 819.9,362.8 821.5,371.9 824.0,352.8 825.7,332.9 826.5,304.7 829.0,266.6 831.5,268.2 832.3,329.6 834.8,329.6 836.4,319.7 843.1,321.3 843.9,291.5 845.6,271.6 847.6,199.0 849.6,199.0 850.6,235.7 852.7,248.0 853.7,227.6 855.7,233.7 856.7,209.2 858.8,205.1 860.8,199.0 861.8,174.5 863.9,159.2 865.9,166.3 868.0,176.5 870.0,182.7 871.0,235.7 873.1,229.6 874.1,211.2 876.1,227.6 878.2,185.7 880.2,186.7 881.2,203.1 882.2,217.3 885.3,215.3 888.4,220.4 889.4,235.7 891.4,241.8 892.4,278.6 894.5,272.4 895.5,256.1 898.6,253.1 900.6,256.1 902.7,265.3 905.7,262.2 907.8,252.0 909.8,258.2 911.8,264.3 914.9,254.1 918.0,260.2 920.0,249.0 922.0,248.0 924.1,253.1 927.1,250.0 929.2,243.9 932.2,231.6 934.3,219.4 936.3,223.5 941.4,223.5 942.0,188.8 944.9,183.7 946.5,190.8 948.6,199.0 948.6,227.6 950.6,229.6 952.7,221.4 954.7,239.8 956.7,245.9 958.8,256.1 960.9,258.0 961.8,262.0 963.9,285.0 965.3,305.0 966.9,278.6 968.5,292.0 970.0,300.0 970.7,318.6 972.5,322.1 976.1,318.6 978.8,323.9 979.6,330.2 982.3,320.4 985.9,320.4 988.6,311.4 990.4,325.7 993.0,336.4 993.5,348.9 995.7,345.4 998.4,329.3 1001.1,323.0 1003.8,323.9 1005.5,308.8 1007.3,329.3 1010.0,323.9 1012.7,314.1 1015.4,316.8 1018.0,327.5 1021.6,327.5 1024.3,329.3 1025.7,345.4 1027.0,327.5 1029.6,325.7 1031.4,318.6 1035.0,315.0 1038.6,315.9 1042.1,313.2 1044.8,307.9 1046.6,298.9 1048.4,302.5 1050.2,313.2 1052.0,291.8 1054.6,289.1 1058.2,289.1 1060.0,295.4 1062.7,298.9 1064.5,309.6 1066.2,320.4 1067.1,366.8 1068.9,368.6 1069.8,323.9 1072.5,329.3 1074.3,343.6 1077.0,334.6 1079.6,331.1 1081.4,320.4 1084.1,318.6 1086.8,324.8 1089.5,321.2 1092.1,318.6 1093.9,309.6 1095.7,302.5 1096.6,284.6 1098.4,284.6 1100.2,291.8 1102.0,273.0 1103.8,284.6 1106.4,292.7 1108.2,290.0 1110.9,282.9 1112.7,266.8 1115.4,256.1 1119.8,256.1 1121.6,259.6 1123.4,275.7 1125.2,287.3" fill="none" stroke="#3e7fc2" stroke-width="6.2" stroke-linejoin="round" stroke-linecap="round"/>
<text x="44.5" y="61.2" font-size="29.2" fill="#555" font-family='"Liberation Sans",sans-serif' text-anchor="start" textLength="116.5" lengthAdjust="spacing" >RMB/ton</text>
<text x="169.3" y="109.1" font-size="28" fill="#555" font-family='"Liberation Sans",sans-serif' text-anchor="end" letter-spacing="0.3">4000</text>
<text x="169.3" y="165.2" font-size="28" fill="#555" font-family='"Liberation Sans",sans-serif' text-anchor="end" letter-spacing="0.3">3500</text>
<text x="169.3" y="227.3" font-size="28" fill="#555" font-family='"Liberation Sans",sans-serif' text-anchor="end" letter-spacing="0.3">3000</text>
<text x="169.3" y="287.2" font-size="28" fill="#555" font-family='"Liberation Sans",sans-serif' text-anchor="end" letter-spacing="0.3">2500</text>
<text x="169.3" y="347.1" font-size="28" fill="#555" font-family='"Liberation Sans",sans-serif' text-anchor="end" letter-spacing="0.3">2000</text>
<text x="169.3" y="409.1" font-size="28" fill="#555" font-family='"Liberation Sans",sans-serif' text-anchor="end" letter-spacing="0.3">1500</text>
<text x="169.3" y="469.0" font-size="28" fill="#555" font-family='"Liberation Sans",sans-serif' text-anchor="end" letter-spacing="0.3">1000</text>
<text x="169.3" y="529.1" font-size="28" fill="#555" font-family='"Liberation Sans",sans-serif' text-anchor="end" letter-spacing="0.3">500</text>
<text x="169.3" y="591.2" font-size="28" fill="#555" font-family='"Liberation Sans",sans-serif' text-anchor="end" letter-spacing="0.3">0</text>
<text x="1158" y="91.0" font-size="28" fill="#555" font-family='"Liberation Sans",sans-serif' letter-spacing="0.3">9000</text>
<text x="1158" y="145.2" font-size="28" fill="#555" font-family='"Liberation Sans",sans-serif' letter-spacing="0.3">8000</text>
<text x="1158" y="197.0" font-size="28" fill="#555" font-family='"Liberation Sans",sans-serif' letter-spacing="0.3">7000</text>
<text x="1158" y="251.4" font-size="28" fill="#555" font-family='"Liberation Sans",sans-serif' letter-spacing="0.3">6000</text>
<text x="1158" y="305.1" font-size="28" fill="#555" font-family='"Liberation Sans",sans-serif' letter-spacing="0.3">5000</text>
<text x="1158" y="357.2" font-size="28" fill="#555" font-family='"Liberation Sans",sans-serif' letter-spacing="0.3">4000</text>
<text x="1158" y="411.5" font-size="28" fill="#555" font-family='"Liberation Sans",sans-serif' letter-spacing="0.3">3000</text>
<text x="1158" y="463.1" font-size="28" fill="#555" font-family='"Liberation Sans",sans-serif' letter-spacing="0.3">2000</text>
<text x="1158" y="517.0" font-size="28" fill="#555" font-family='"Liberation Sans",sans-serif' letter-spacing="0.3">1000</text>
<text x="1158" y="571.4" font-size="28" fill="#555" font-family='"Liberation Sans",sans-serif' letter-spacing="0.3">0</text>
<text x="1142" y="42.4" font-size="29.3" fill="#000" font-family='"Liberation Serif",serif' text-anchor="start" textLength="64.5" lengthAdjust="spacing" >RMB</text>
<text x="1208" y="44.8" font-size="28" fill="#555" font-family='"Liberation Sans",sans-serif' text-anchor="start" textLength="49.5" lengthAdjust="spacing" >/ton</text>
<rect x="460" y="752" width="54" height="16" fill="#cc4547"/>
<text x="522" y="754.5" font-size="21.5" fill="#111" font-family='"Liberation Serif",serif' text-anchor="start" textLength="145.5" lengthAdjust="spacing" >Shipment Index</text>
<rect x="687" y="757" width="55" height="6" fill="#3a7abf"/>
<text x="756" y="756.6" font-size="18.5" fill="#666" font-family='"Liberation Sans",sans-serif' text-anchor="start" textLength="143" lengthAdjust="spacing" >East China price</text>
<rect x="32" y="766" width="4" height="18" fill="#000"/>
</svg>
</body></html>
